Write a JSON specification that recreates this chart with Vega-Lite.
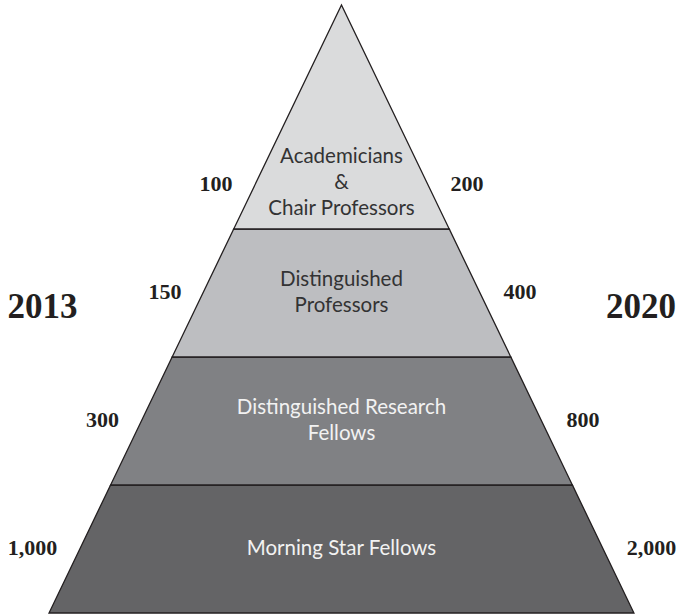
{
  "$schema": "https://vega.github.io/schema/vega-lite/v6.json",
  "width": 680,
  "height": 615,
  "padding": 0,
  "autosize": {"type": "none"},
  "background": "white",
  "config": {"view": {"stroke": null}},
  "datasets": {
    "tiers": [
      {"tier": "Morning Star Fellows", "level": 0, "left": -2.285, "right": 2.285},
      {"tier": "Morning Star Fellows", "level": 1, "left": -1.804, "right": 1.804},
      {"tier": "Distinguished Research Fellows", "level": 1, "left": -1.804, "right": 1.804},
      {"tier": "Distinguished Research Fellows", "level": 2, "left": -1.323, "right": 1.323},
      {"tier": "Distinguished Professors", "level": 2, "left": -1.323, "right": 1.323},
      {"tier": "Distinguished Professors", "level": 3, "left": -0.842, "right": 0.842},
      {"tier": "Academicians & Chair Professors", "level": 3, "left": -0.842, "right": 0.842},
      {"tier": "Academicians & Chair Professors", "level": 4.75, "left": 0, "right": 0}
    ],
    "names": [
      {"tier": "Academicians & Chair Professors", "label": "Academicians\n&\nChair Professors", "x": 0, "y": 3.565, "tone": "light"},
      {"tier": "Distinguished Professors", "label": "Distinguished\nProfessors", "x": 0, "y": 2.598, "tone": "light"},
      {"tier": "Distinguished Research Fellows", "label": "Distinguished Research\nFellows", "x": 0, "y": 1.602, "tone": "dark"},
      {"tier": "Morning Star Fellows", "label": "Morning Star Fellows", "x": 0, "y": 0.5, "tone": "dark"}
    ],
    "counts": [
      {"year": "2013", "tier": "Academicians & Chair Professors", "count": "100", "x": -0.98, "y": 3.355},
      {"year": "2020", "tier": "Academicians & Chair Professors", "count": "200", "x": 0.98, "y": 3.355},
      {"year": "2013", "tier": "Distinguished Professors", "count": "150", "x": -1.379, "y": 2.508},
      {"year": "2020", "tier": "Distinguished Professors", "count": "400", "x": 1.395, "y": 2.508},
      {"year": "2013", "tier": "Distinguished Research Fellows", "count": "300", "x": -1.867, "y": 1.508},
      {"year": "2020", "tier": "Distinguished Research Fellows", "count": "800", "x": 1.887, "y": 1.508},
      {"year": "2013", "tier": "Morning Star Fellows", "count": "1,000", "x": -2.414, "y": 0.508},
      {"year": "2020", "tier": "Morning Star Fellows", "count": "2,000", "x": 2.422, "y": 0.508}
    ],
    "years": [
      {"year": "2013", "x": -2.336, "y": 2.39},
      {"year": "2020", "x": 2.34, "y": 2.39}
    ]
  },
  "encoding": {
    "x": {"type": "quantitative", "scale": {"domain": [-2.668, 2.645], "nice": false, "zero": false}, "axis": null},
    "y": {"type": "quantitative", "scale": {"domain": [-0.0156, 4.789], "nice": false, "zero": false}, "axis": null}
  },
  "resolve": {"scale": {"color": "independent"}},
  "layer": [
    {
      "data": {"name": "tiers"},
      "mark": {"type": "area", "orient": "horizontal", "stroke": "#231f20", "strokeWidth": 1.3, "strokeJoin": "miter"},
      "encoding": {
        "y": {"field": "level", "type": "quantitative"},
        "x": {"field": "left", "type": "quantitative"},
        "x2": {"field": "right"},
        "color": {
          "field": "tier",
          "type": "nominal",
          "legend": null,
          "scale": {
            "domain": ["Academicians & Chair Professors", "Distinguished Professors", "Distinguished Research Fellows", "Morning Star Fellows"],
            "range": ["#dadbdc", "#bdbec1", "#808184", "#646466"]
          }
        }
      }
    },
    {
      "data": {"name": "names"},
      "mark": {"type": "text", "font": "Lato", "fontSize": 20.5, "lineBreak": "\n", "lineHeight": 26, "align": "center", "baseline": "middle"},
      "encoding": {
        "x": {"field": "x", "type": "quantitative"},
        "y": {"field": "y", "type": "quantitative"},
        "text": {"field": "label"},
        "color": {
          "field": "tone",
          "type": "nominal",
          "legend": null,
          "scale": {"domain": ["light", "dark"], "range": ["#333334", "#f2f2f2"]}
        }
      }
    },
    {
      "data": {"name": "counts"},
      "mark": {"type": "text", "font": "Liberation Serif", "fontWeight": "bold", "fontSize": 22, "align": "center", "baseline": "middle", "color": "#231f20"},
      "encoding": {
        "x": {"field": "x", "type": "quantitative"},
        "y": {"field": "y", "type": "quantitative"},
        "text": {"field": "count"}
      }
    },
    {
      "data": {"name": "years"},
      "mark": {"type": "text", "font": "Liberation Serif", "fontWeight": "bold", "fontSize": 35, "align": "center", "baseline": "middle", "color": "#231f20"},
      "encoding": {
        "x": {"field": "x", "type": "quantitative"},
        "y": {"field": "y", "type": "quantitative"},
        "text": {"field": "year"}
      }
    }
  ]
}
